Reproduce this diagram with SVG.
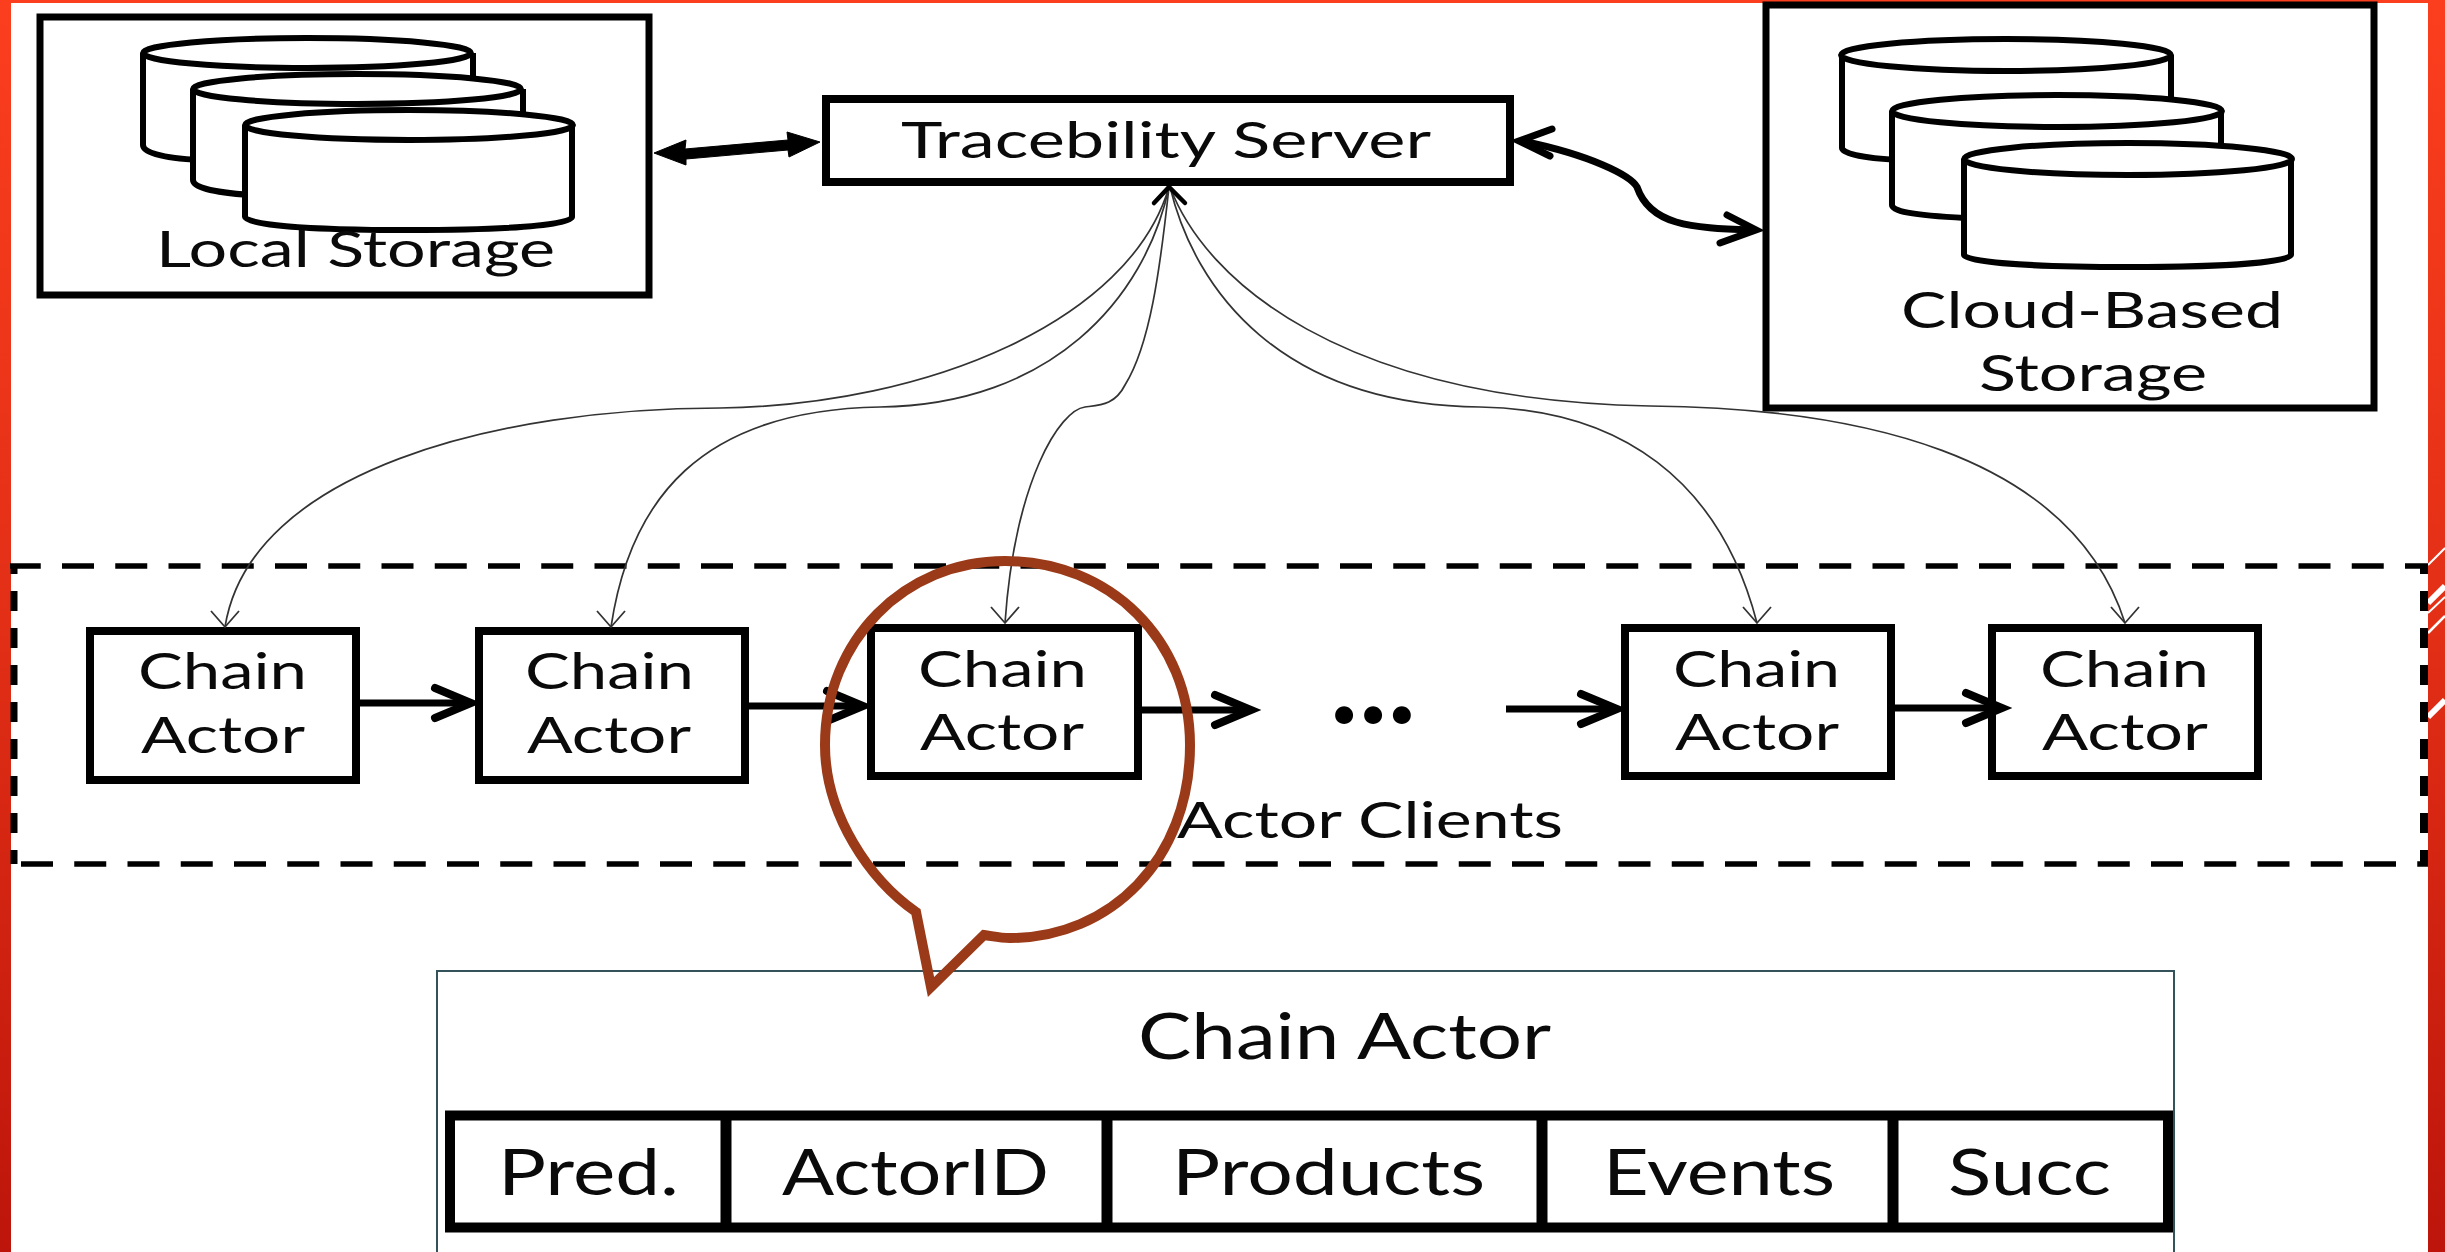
<svg xmlns="http://www.w3.org/2000/svg" width="2445" height="1252" viewBox="0 0 2445 1252">
<style>
.t{font-family:Lato,"Open Sans","Liberation Sans",sans-serif;fill:#0a0a0a;font-size:50px}
.b{fill:#fff;stroke:#000;stroke-width:7;stroke-linejoin:miter}
.a{fill:#fff;stroke:#000;stroke-width:8;stroke-linejoin:miter}
.c{fill:#fff;stroke:#000;stroke-width:6}
.th{fill:none;stroke:#000;stroke-width:7}
.w{fill:none;stroke:#333;stroke-width:1.7}
.s{stroke:#fff;fill:none}
.big{font-size:64px}
</style>
<defs>
<linearGradient id="red" x1="0" y1="0" x2="0" y2="1">
<stop offset="0" stop-color="#fb3e1e"/>
<stop offset="0.5" stop-color="#e22f16"/>
<stop offset="1" stop-color="#bd150b"/>
</linearGradient>
<marker id="open" markerUnits="userSpaceOnUse" markerWidth="1" markerHeight="1" orient="auto" overflow="visible">
<path d="M-37 -15L-1 0L-37 15" fill="none" stroke="#000" stroke-width="8" stroke-linecap="round"/>
</marker>
<marker id="thin" markerUnits="userSpaceOnUse" markerWidth="1" markerHeight="1" orient="90" overflow="visible">
<path d="M-16 -14L0 0L-16 14" fill="none" stroke="#333" stroke-width="1.8"/>
</marker>
</defs>
<g id="background">
<rect width="2445" height="1252" fill="url(#red)"/>
<rect x="11" y="3" width="2417" height="1249" fill="#fff"/>
<path class="s" stroke-width="2" d="M2428 565L2445 548"/>
<path class="s" stroke-width="6" d="M2428 603L2445 586"/>
<path class="s" stroke-width="2" d="M2428 613L2445 597"/>
<path class="s" stroke-width="2.5" d="M2428 633L2445 616"/>
<path class="s" stroke-width="6" d="M2428 717L2445 700"/>
</g>
<g id="actor-clients">
<path d="M10 566H2428" fill="none" stroke="#000" stroke-width="5.5" stroke-dasharray="32 21.25" stroke-dashoffset="1.25"/>
<path d="M14 864H2428" fill="none" stroke="#000" stroke-width="5.5" stroke-dasharray="32 21.25" stroke-dashoffset="46.25"/>
<path d="M14 566V864" fill="none" stroke="#000" stroke-width="7" stroke-dasharray="20 17" stroke-dashoffset="12"/>
<path d="M2424 566V864" fill="none" stroke="#000" stroke-width="8" stroke-dasharray="20 17" stroke-dashoffset="12"/>
<text class="t" x="1177" y="838" textLength="386" lengthAdjust="spacingAndGlyphs">Actor Clients</text>
</g>
<g id="local-storage">
<rect class="b" x="40" y="17" width="609" height="278"/>
<path class="c" d="M143 53V145C143 152 160 158 200 160L473 160V53"/>
<ellipse class="c" cx="307" cy="53" rx="164" ry="15"/>
<path class="c" d="M193 89V180C193 187 210 192 250 195L523 195V89"/>
<ellipse class="c" cx="357" cy="89" rx="164" ry="15"/>
<path class="c" d="M245 125V217C245 224 300 230 409 230C518 230 572 224 572 217V125"/>
<ellipse class="c" cx="409" cy="125" rx="164" ry="15"/>
<text class="t" x="156" y="267" textLength="399" lengthAdjust="spacingAndGlyphs">Local Storage</text>
</g>
<g id="cloud-storage">
<rect class="b" x="1766" y="5" width="608" height="403"/>
<path class="c" d="M1842 55V148C1842 153 1860 158 1900 160L2171 160V55"/>
<ellipse class="c" cx="2006" cy="55" rx="165" ry="16"/>
<path class="c" d="M1892 111V205C1892 211 1910 215 1965 218L2221 218V111"/>
<ellipse class="c" cx="2057" cy="111" rx="165" ry="16"/>
<path class="c" d="M1964 159V255C1964 261 2020 267 2128 267C2236 267 2291 261 2291 255V159"/>
<ellipse class="c" cx="2128" cy="159" rx="164" ry="16"/>
<text class="t" x="1901" y="328" textLength="382" lengthAdjust="spacingAndGlyphs">Cloud-Based</text>
<text class="t" x="1979" y="391" textLength="228" lengthAdjust="spacingAndGlyphs">Storage</text>
</g>
<g id="tracebility-server">
<rect class="a" x="826" y="99" width="684" height="83"/>
<text class="t" x="901" y="158" textLength="530" lengthAdjust="spacingAndGlyphs">Tracebility Server</text>
</g>
<g id="chain-actor-1">
<rect class="a" x="90" y="631" width="266" height="149"/>
<text class="t" x="138" y="689" textLength="169" lengthAdjust="spacingAndGlyphs">Chain</text>
<text class="t" x="141" y="753" textLength="164" lengthAdjust="spacingAndGlyphs">Actor</text>
</g>
<g id="chain-actor-2">
<rect class="a" x="479" y="631" width="266" height="149"/>
<text class="t" x="525" y="689" textLength="169" lengthAdjust="spacingAndGlyphs">Chain</text>
<text class="t" x="527" y="753" textLength="164" lengthAdjust="spacingAndGlyphs">Actor</text>
</g>
<g id="chain-actor-3">
<rect class="a" x="871" y="628" width="267" height="148"/>
<text class="t" x="918" y="687" textLength="169" lengthAdjust="spacingAndGlyphs">Chain</text>
<text class="t" x="920" y="750" textLength="164" lengthAdjust="spacingAndGlyphs">Actor</text>
</g>
<g id="chain-actor-4">
<rect class="a" x="1625" y="628" width="266" height="148"/>
<text class="t" x="1673" y="687" textLength="167" lengthAdjust="spacingAndGlyphs">Chain</text>
<text class="t" x="1675" y="750" textLength="164" lengthAdjust="spacingAndGlyphs">Actor</text>
</g>
<g id="chain-actor-5">
<rect class="a" x="1992" y="628" width="266" height="148"/>
<text class="t" x="2040" y="687" textLength="169" lengthAdjust="spacingAndGlyphs">Chain</text>
<text class="t" x="2042" y="750" textLength="166" lengthAdjust="spacingAndGlyphs">Actor</text>
</g>
<g id="ellipsis">
<text x="1331" y="723" font-family="Lato,'Open Sans',sans-serif" font-weight="900" font-size="110" fill="#000" textLength="84">...</text>
</g>
<g id="connectors">
<path d="M654 153L686 140L685 149L788 140L787 132L820 142L789 157L788 150L686 159L686 165Z" fill="#000" stroke="#000" stroke-width="1"/>
<path class="th" d="M1522 141C1590 155 1630 175 1637 187C1650 225 1690 228 1752 230"/>
<path class="th" stroke-linecap="round" d="M1552 129L1519 141L1550 156M1727 215L1756 230L1720 243"/>
<path class="th" marker-end="url(#open)" d="M358 703H472"/>
<path class="th" marker-end="url(#open)" d="M746 706H864"/>
<path class="th" marker-end="url(#open)" d="M1140 710H1252"/>
<path class="th" marker-end="url(#open)" d="M1506 709H1618"/>
<path class="th" marker-end="url(#open)" d="M1893 708H2003"/>
<path class="w" marker-end="url(#thin)" d="M1169 187C1130 320 930 405 720 408C500 408 250 470 225 627"/>
<path class="w" marker-end="url(#thin)" d="M1169 187C1145 300 1050 405 880 407C700 410 630 500 611 627"/>
<path class="w" marker-end="url(#thin)" d="M1169 187C1160 270 1150 345 1125 385C1115 405 1100 405 1085 407C1060 410 1015 480 1005 623"/>
<path class="w" marker-end="url(#thin)" d="M1170 187C1195 290 1280 405 1480 407C1620 409 1720 480 1757 623"/>
<path class="w" marker-end="url(#thin)" d="M1170 187C1205 280 1340 400 1650 406C1850 408 2070 450 2125 623"/>
<path d="M1154 203L1169 187L1185 203" fill="none" stroke="#000" stroke-width="4.5" stroke-linecap="round"/>
</g>
<g id="chain-actor-detail">
<rect x="437" y="971" width="1737" height="300" fill="#fff" stroke="#34525a" stroke-width="2"/>
<text class="t big" x="1138" y="1059" textLength="413" lengthAdjust="spacingAndGlyphs">Chain Actor</text>
<rect x="450" y="1115.5" width="1718" height="112" fill="#fff" stroke="#000" stroke-width="10"/>
<path d="M726 1115V1228M1107 1115V1228M1542 1115V1228M1893 1115V1228" stroke="#000" stroke-width="11" fill="none"/>
<text class="t big" x="498" y="1195" textLength="181" lengthAdjust="spacingAndGlyphs">Pred.</text>
<text class="t big" x="782" y="1195" textLength="267" lengthAdjust="spacingAndGlyphs">ActorID</text>
<text class="t big" x="1172" y="1195" textLength="313" lengthAdjust="spacingAndGlyphs">Products</text>
<text class="t big" x="1603" y="1195" textLength="232" lengthAdjust="spacingAndGlyphs">Events</text>
<text class="t big" x="1948" y="1195" textLength="163" lengthAdjust="spacingAndGlyphs">Succ</text>
</g>
<g id="callout">
<path d="M916 912C870 880 825 815 825 745C825 640 905 561 1005 561C1110 561 1190 640 1190 745C1190 860 1110 938 1010 938C1000 938 992 936 984 935L931 987Z" fill="none" stroke="#9b3a18" stroke-width="10" stroke-linejoin="miter"/>
</g>
</svg>
